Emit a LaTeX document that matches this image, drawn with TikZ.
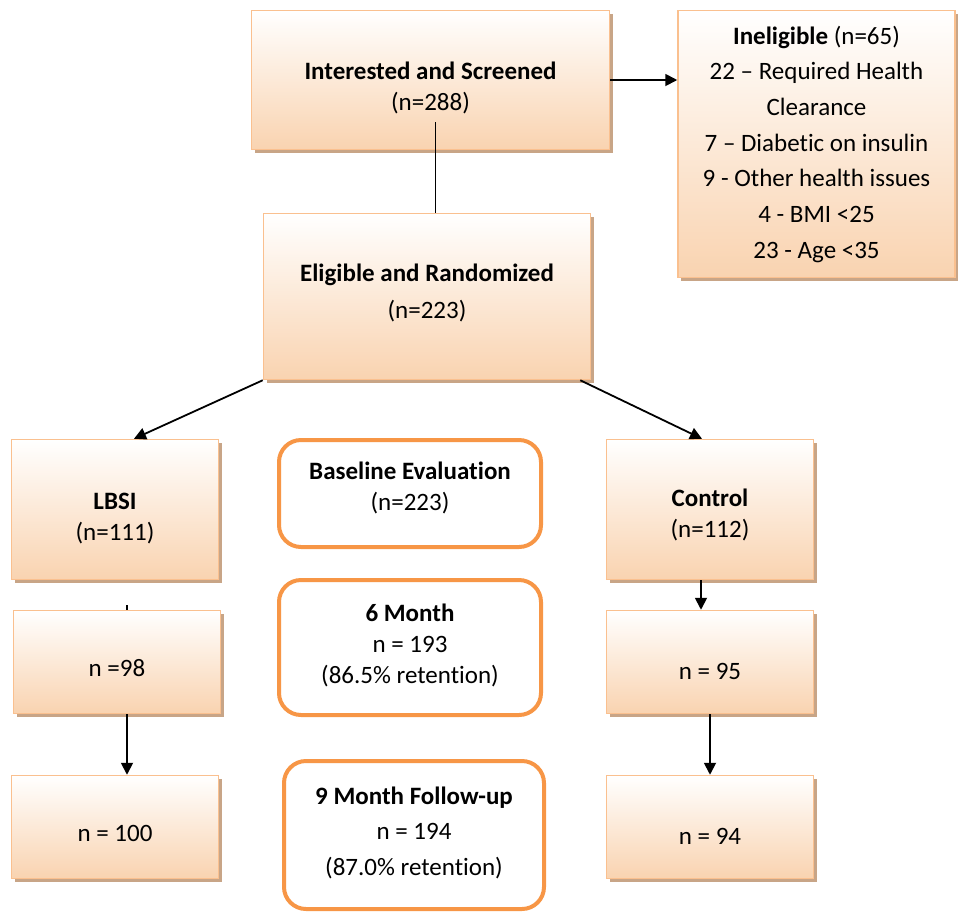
\documentclass[tikz,border=0pt]{standalone}
\usepackage{fontspec}
\setmainfont{Carlito}[Ligatures={NoCommon,NoContextual}]
\usetikzlibrary{arrows.meta,shadows}
\definecolor{peach}{RGB}{249,211,176}
\definecolor{bordr}{RGB}{250,192,143}
\definecolor{shad}{RGB}{200,165,135}
\definecolor{orng}{RGB}{247,150,70}
% shift the text block vertically without changing the node size
\newcommand\boxtext[2]{\raisebox{#1}[\height][\depth]{\begin{tabular}{@{}c@{}}#2\end{tabular}}}
\begin{document}
\begin{tikzpicture}[x=1pt,y=-1pt]
\tikzset{
 gbox/.style={rectangle, draw=bordr, line width=1.5pt, top color=white, bottom color=peach,
   drop shadow={shadow xshift=3pt,shadow yshift=-3pt,fill=shad,opacity=1},
   inner sep=0pt, font=\fontsize{25}{31}\selectfont},
 rbox/.style={rectangle, rounded corners=22pt, draw=orng, line width=4pt, fill=white,
   inner sep=0pt, font=\fontsize{25}{31}\selectfont},
 arr/.style={-{Triangle[length=12pt,width=12pt]}, line width=1.8pt, black},
 ln/.style={line width=1.8pt, black}
}
\useasboundingbox (0,0) rectangle (959,914);

\node[gbox, minimum width=358pt, minimum height=139pt] (IS) at (430.5,80) {\boxtext{-8.5pt}{\textbf{Interested and Screened}\\(n=288)}};
\node[gbox, minimum width=277pt, minimum height=267pt, font=\fontsize{25}{35.7}\selectfont] (Inel) at (816.5,144) {\boxtext{0pt}{\textbf{Ineligible} (n=65)\\22 – Required Health\\Clearance\\7 – Diabetic on insulin\\9 - Other health issues\\4 - BMI <25\\23 - Age <35}};
\node[gbox, minimum width=327pt, minimum height=166pt, font=\fontsize{25}{37}\selectfont] (Elig) at (427,296.5) {\boxtext{4pt}{\textbf{Eligible and Randomized}\\(n=223)}};
\node[gbox, minimum width=207pt, minimum height=140pt] (LBSI) at (115,509.5) {\boxtext{-9pt}{\textbf{LBSI}\\(n=111)}};
\node[gbox, minimum width=207pt, minimum height=140pt] (Ctrl) at (710,509.5) {\boxtext{-6pt}{\textbf{Control}\\(n=112)}};
\node[gbox, minimum width=207pt, minimum height=103pt] (n98) at (117,662) {\boxtext{-8pt}{n =98}};
\node[gbox, minimum width=207pt, minimum height=103pt] (n100) at (115,827) {\boxtext{-8pt}{n = 100}};
\node[gbox, minimum width=207pt, minimum height=103pt] (n95) at (710,662) {\boxtext{-11pt}{n = 95}};
\node[gbox, minimum width=207pt, minimum height=103pt] (n94) at (710,827) {\boxtext{-11pt}{n = 94}};

\node[rbox, minimum width=262pt, minimum height=107pt] (base) at (410,493.5) {\boxtext{5pt}{\textbf{Baseline Evaluation}\\(n=223)}};
\node[rbox, minimum width=262pt, minimum height=135pt] (m6) at (410,647.5) {\boxtext{1.5pt}{\textbf{6 Month}\\n = 193\\(86.5\% retention)}};
\node[rbox, minimum width=260pt, minimum height=148pt, font=\fontsize{25}{35.5}\selectfont] (m9) at (414,835) {\boxtext{2.5pt}{\textbf{9 Month Follow-up}\\n = 194\\(87.0\% retention)}};

\draw[arr] (IS.east) -- (IS.east -| Inel.west);
\coordinate (isl) at (435.5,122);
\draw[ln] (isl) -- (isl |- Elig.north);
\draw[arr] (Elig.south west) -- ([xshift=19pt]LBSI.north);
\draw[arr] ([xshift=-11pt]Elig.south east) -- ([xshift=-8pt]Ctrl.north);
\draw[arr] ([xshift=-9pt]Ctrl.south) -- ([xshift=-9pt]n95.north);
\draw[arr] (n95.south) -- (n94.north);
\draw[arr] ([xshift=10pt]n98.south) -- ([xshift=12pt]n100.north);
\coordinate (stub) at (127,605);
\draw[ln] (stub) -- (stub |- n98.north);
\end{tikzpicture}
\end{document}
